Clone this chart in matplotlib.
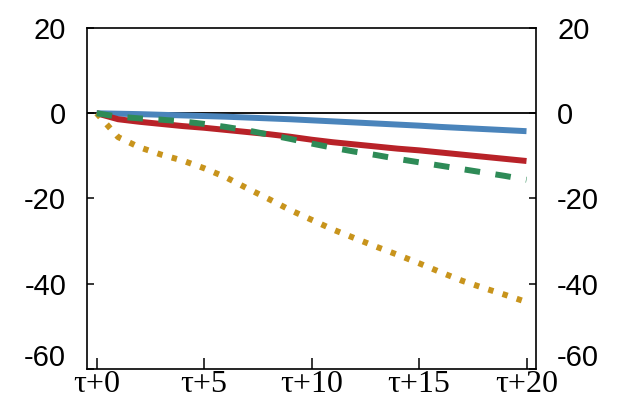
import numpy as np
import matplotlib
matplotlib.use("Agg")
import matplotlib.pyplot as plt
from matplotlib.transforms import ScaledTranslation

# horizons tau+0 ... tau+20
steps = np.arange(0, 21)

blue = [0, -0.1, -0.2, -0.35, -0.5, -0.65, -0.8, -1.0, -1.2, -1.4, -1.65,
        -1.9, -2.15, -2.4, -2.65, -2.9, -3.2, -3.45, -3.7, -3.95, -4.2]
red = [0, -1.4, -2.0, -2.5, -3.0, -3.4, -3.9, -4.4, -4.9, -5.5, -6.2,
       -6.8, -7.3, -7.8, -8.3, -8.7, -9.2, -9.7, -10.2, -10.7, -11.2]
green = [0, -0.8, -1.2, -1.5, -1.9, -2.5, -3.2, -4.0, -5.0, -6.0, -7.1,
         -8.1, -9.0, -9.8, -10.7, -11.5, -12.3, -13.1, -13.9, -14.7, -15.6]
gold = [0, -5.6, -8.0, -9.7, -11.1, -12.9, -15.0, -17.6, -20.1, -22.7, -25.0,
        -27.3, -29.3, -31.3, -33.2, -35.2, -37.3, -39.3, -41.0, -42.6, -44.3]

xticks = [0, 5, 10, 15, 20]
xlabels = ["τ+0", "τ+5", "τ+10", "τ+15", "τ+20"]
yticks = [20, 0, -20, -40, -60]

fig = plt.figure(figsize=(6.17, 4.01), dpi=100)
ax = fig.add_axes([0.141, 0.080, 0.728, 0.850])

ax.axhline(0, color="black", lw=1.3, zorder=1)
ax.plot(steps, blue, color="#4a84bb", lw=4.3, solid_capstyle="butt", zorder=3)
ax.plot(steps, red, color="#b82228", lw=4.3, solid_capstyle="butt", zorder=3)
ax.plot(steps, green, color="#2e8b57", lw=4.3, ls=(0, (2.6, 2.6)), zorder=4)
ax.plot(steps, gold, color="#c8941c", lw=4.3, ls=(0, (0.9, 1.6)), zorder=3)

ax.set_xlim(-0.45, 20.45)
ax.set_ylim(-60, 20)

ax.set_yticks(yticks)
ax.set_yticklabels([str(v) for v in yticks], family=["Liberation Sans", "DejaVu Sans"])
ax.tick_params(axis="y", direction="in", length=5, width=1.1, labelsize=21,
               left=True, right=True, labelleft=True, labelright=True, pad=15)

ax.set_xticks(xticks)
ax.set_xticklabels(xlabels, family=["Liberation Serif", "DejaVu Serif"])
ax.tick_params(axis="x", direction="in", length=8, width=1.1, labelsize=23, pad=1)

for sp in ax.spines.values():
    sp.set_linewidth(1.2)

# the -60 labels sit a bit higher than their tick
shift = ScaledTranslation(0, 14 / 100, fig.dpi_scale_trans)
for t in ax.yaxis.get_major_ticks():
    if abs(t.get_loc() + 60) < 1e-6:
        t.label1.set_transform(t.label1.get_transform() + shift)
        t.label2.set_transform(t.label2.get_transform() + shift)

fig.savefig("out.png", dpi=100)
